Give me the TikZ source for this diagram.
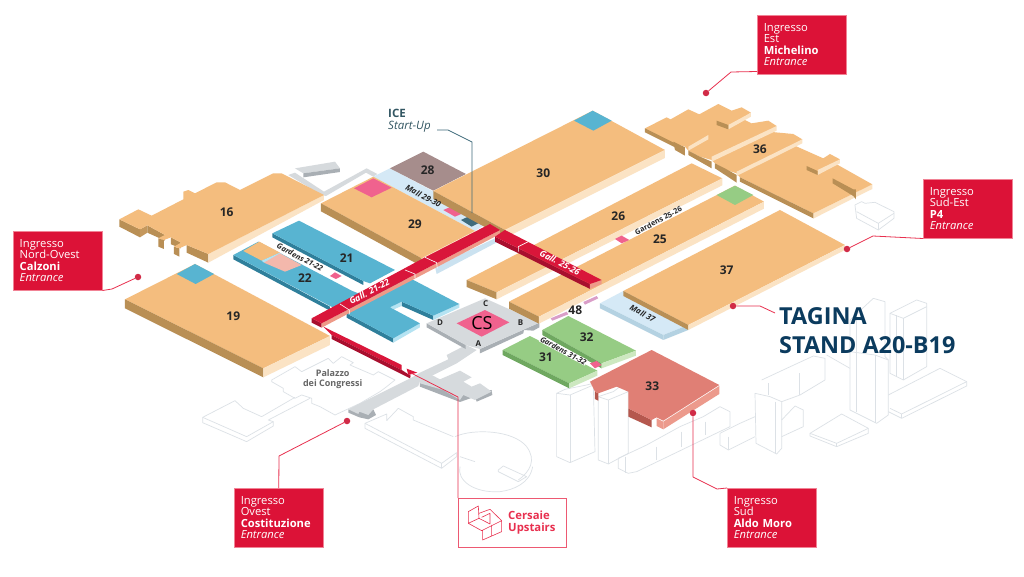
\documentclass[tikz,border=0pt]{standalone}
\usepackage{fontspec}
\setmainfont{Open Sans}
\definecolor{orangetop}{HTML}{F4BD7E}
\definecolor{orangeleft}{HTML}{B98F55}
\definecolor{orangeright}{HTML}{FBE3C4}
\definecolor{bluetop}{HTML}{58B4D1}
\definecolor{blueleft}{HTML}{2F7F9B}
\definecolor{blueright}{HTML}{B5E3F2}
\definecolor{greentop}{HTML}{96CC84}
\definecolor{greenleft}{HTML}{6FA860}
\definecolor{greenright}{HTML}{CDE8C0}
\definecolor{malltop}{HTML}{D5E9F6}
\definecolor{mallleft}{HTML}{B4D2E2}
\definecolor{mallright}{HTML}{B4D2E2}
\definecolor{redtop}{HTML}{D9163A}
\definecolor{reddark}{HTML}{A80F2E}
\definecolor{redlow}{HTML}{EE9A88}
\definecolor{leadred}{HTML}{E8304F}
\definecolor{boxred}{HTML}{DC1237}
\definecolor{pinkcs}{HTML}{F0628E}
\definecolor{greytop}{HTML}{D6DADD}
\definecolor{greyside}{HTML}{A9AFB4}
\definecolor{ghost}{HTML}{DCE1E6}
\definecolor{hall28}{HTML}{A68D8C}
\definecolor{hall33}{HTML}{E07F75}
\definecolor{side33}{HTML}{EC9A8C}
\definecolor{dark33}{HTML}{B5584E}
\definecolor{navy}{HTML}{0B3B5E}
\definecolor{teal}{HTML}{3F6B7B}
\tikzset{
  zoomed/.style={x=0.3333pt,y=-0.3333pt},
  ghostline/.style={draw=ghost,line width=0.7pt,line join=round},
  hallnum/.style={font=\bfseries\fontsize{12}{12}\selectfont,text=black!85,inner sep=0pt},
  gatelabel/.style={font=\bfseries\fontsize{8}{8}\selectfont,text=black!85,inner sep=0pt},
  streetlabel/.style={font=\bfseries\itshape\fontsize{8}{8}\selectfont,text=black!85,inner sep=1pt},
  gardenlabel/.style={font=\bfseries\itshape\fontsize{7.6}{7.6}\selectfont,text=black!85,fill=white,inner sep=0.3pt},
  gallabel/.style={font=\bfseries\itshape\fontsize{8.8}{8.8}\selectfont,text=white,inner sep=0pt},
  entry/.style={anchor=north west,fill=boxred,draw=leadred!60,line width=0.5pt,text=white,align=left,
    text width=76pt,inner xsep=6pt,inner ysep=0pt,minimum width=89pt,minimum height=59pt,
    font=\fontsize{11.2}{11.5}\selectfont},
  dot/.style={circle,fill=leadred!90!black,minimum size=6.5pt,inner sep=0pt},
  lead/.style={draw=leadred,line width=0.8pt,line join=round}
}
% one slab: corners left, bottom, right, top, then height and colour family
\newcommand{\slab}[6]{
  \fill[#6top] (#1) -- (#2) -- (#3) -- (#4) -- cycle;
  \fill[#6left] (#1) -- (#2) -- ([yshift=-#5pt]#2) -- ([yshift=-#5pt]#1) -- cycle;
  \fill[#6right] (#2) -- (#3) -- ([yshift=-#5pt]#3) -- ([yshift=-#5pt]#2) -- cycle;
}
\begin{document}
\begin{tikzpicture}[x=1pt,y=-1pt]
\useasboundingbox (0,0) rectangle (1024,576);
\fill[white] (0,0) rectangle (1024,576);

% ghost buildings, west
\begin{scope}[shift={(180,340)},zoomed]
  \draw[ghostline] (275,120) -- (345,80) -- (365,95) -- (445,55) -- (460,70) -- (485,50) -- (520,68) -- (510,75) -- (580,105) -- (595,95) -- (645,120) -- (620,140) -- (600,155) -- (540,190) -- (465,225) -- (420,200) -- (395,190) -- (395,175) -- (365,165) -- (345,175) -- (310,155) -- (310,145) -- (275,125) -- cycle;
  \draw[ghostline] (68,232) -- (165,182) -- (190,205) -- (245,230) -- (345,172);
  \draw[ghostline] (68,232) -- (68,248) -- (200,305) -- (280,258) -- (280,245) -- (265,240) -- (390,175);
  \draw[ghostline] (68,232) -- (200,290) -- (280,245);
  \draw[ghostline] (555,250) -- (620,222) -- (620,242) -- (655,205) -- (700,230) -- (700,240) -- (820,290);
  \draw[ghostline] (555,250) -- (555,265) -- (785,385) -- (830,350) -- (830,338);
  \draw[ghostline] (555,250) -- (785,370) -- (830,338);
  \draw[ghostline] (785,370) -- (785,385);
\end{scope}
% ghost buildings, south and east
\begin{scope}[shift={(300,280)},zoomed]
  \draw[ghostline] (465,470) .. controls (520,445) and (640,450) .. (680,500) .. controls (710,540) and (690,575) .. (655,600);
  \draw[ghostline] (480,560) .. controls (470,600) and (520,640) .. (600,635) .. controls (640,630) and (690,610) .. (698,560);
  \draw[ghostline] (595,570) -- (610,558) -- (680,590) -- (655,605) -- (595,575) -- cycle;
  \draw[ghostline] (480,530) -- (525,545);
  \draw[ghostline] (770,340) -- (795,328) -- (860,315) -- (880,310) -- (885,515) -- (810,548) -- (770,530) -- cycle;
  \draw[ghostline] (810,345) -- (810,548);
  \draw[ghostline] (770,340) -- (810,345) -- (880,315);
  \draw[ghostline] (895,350) -- (940,335) -- (960,320) -- (985,335) -- (985,520) -- (925,552) -- (895,540) -- cycle;
  \draw[ghostline] (925,360) -- (925,552);
  \draw[ghostline] (895,350) -- (925,360) -- (985,335);
  \draw[ghostline] (955,535) -- (1040,495) -- (1140,440) -- (1210,410) -- (1260,380) -- (1290,395) -- (1290,440) -- (1010,575) -- (985,580) -- (955,565) -- cycle;
  \draw[ghostline] (975,530) -- (975,578);
  \draw[ghostline] (1070,500) -- (1070,540);
  \draw[ghostline] (1145,455) -- (1145,500);
  \draw[ghostline] (1215,425) -- (1215,465);
\end{scope}
\begin{scope}[shift={(700,280)},zoomed]
  \draw[ghostline] (60,460) -- (120,430) -- (165,410) ;
  \draw[ghostline] (60,460) -- (60,495) -- (85,510) -- (165,470);
  \draw[ghostline] (85,470) -- (85,510);
  \draw[ghostline] (245,420) -- (285,378) -- (310,390) -- (310,440) -- (245,470);
  \draw[ghostline] (185,300) -- (260,265) -- (340,228) -- (375,235) -- (375,300) -- (300,345) -- (245,365);
  \draw[ghostline] (205,310) -- (205,345);
  \draw[ghostline] (298,280) -- (298,345);
  \draw[ghostline] (165,340) -- (210,350) -- (245,365) -- (245,505) -- (230,522) -- (168,490) -- cycle;
  \draw[ghostline] (225,365) -- (225,520);
  \draw[ghostline] (450,120) -- (520,55) -- (555,65) -- (555,230) -- (565,240) -- (565,405) -- (530,430) -- (450,390) -- cycle;
  \draw[ghostline] (525,225) -- (525,430);
  \draw[ghostline] (450,215) -- (525,225) -- (565,240);
  \draw[ghostline] (470,115) -- (470,395);
  \draw[ghostline] (570,100) -- (650,60) -- (680,70) -- (680,260) -- (610,300) -- (570,280) -- cycle;
  \draw[ghostline] (590,105) -- (590,290);
  \draw[ghostline] (610,115) -- (610,300);
  \draw[ghostline] (570,100) -- (610,115) -- (680,80);
  \draw[ghostline] (380,225) -- (450,265);
  \draw[ghostline] (330,460) -- (425,402) -- (505,445) -- (505,460) -- (410,500) -- (330,468) -- cycle;
  \draw[ghostline] (330,460) -- (410,490) -- (505,445);
  \draw[ghostline] (410,490) -- (410,500);
  \draw[ghostline] (565,345) -- (720,265) -- (800,305) -- (800,318) -- (605,415) -- (565,395);
  \draw[ghostline] (570,385) -- (605,402) -- (800,305);
  \draw[ghostline] (605,402) -- (605,415);
\end{scope}
\begin{scope}[shift={(440,90)},zoomed]
  \draw[ghostline] (1245,345) -- (1265,335) -- (1275,340) -- (1305,337) -- (1362,365) -- (1362,385) -- (1315,420) -- (1250,385) -- cycle;
  \draw[ghostline] (1250,365) -- (1315,400) -- (1362,370);
  \draw[ghostline] (1315,400) -- (1315,420);
\end{scope}

% grey walkways and central plaza
\begin{scope}[shift={(300,280)},zoomed]
  \fill[greyside] (145,388) -- (145,398) -- (178,412) -- (205,418) -- (228,405) -- (220,388) -- cycle;
  \fill[greyside] (360,305) -- (360,320) -- (425,345) -- (480,366) -- (525,350) -- (530,365) -- (577,345) -- (575,330) -- (480,340) -- cycle;
  \fill[greytop] (145,388) -- (335,293) -- (360,278) -- (445,238) -- (440,225) -- (498,195) -- (530,210) -- (470,250) -- (400,285) -- (360,303) -- (355,318) -- (220,388) -- (205,405) -- (178,395) -- (175,402) -- cycle;
  \fill[greytop] (360,300) -- (395,285) -- (420,298) -- (480,272) -- (515,292) -- (490,305) -- (515,320) -- (540,310) -- (575,335) -- (525,360) -- (490,345) -- (480,360) -- (430,330) -- (360,310) -- cycle;
  \fill[greyside] (380,130) -- (497,195) -- (497,207) -- (380,142) -- cycle;
  \fill[greyside] (540,207) -- (718,128) -- (718,142) -- (700,152) -- (672,150) -- (670,160) -- (540,220) -- cycle;
  \fill[greytop] (380,130) -- (555,55) -- (718,128) -- (540,207) -- (497,195) -- cycle;
  \fill[pinkcs] (470,130) -- (555,90) -- (628,127) -- (545,170) -- cycle;
\end{scope}
\begin{scope}[shift={(100,150)},zoomed]
  \fill[greytop] (565,75) -- (585,68) -- (672,125) -- (800,55) -- (832,72) -- (820,80) -- (798,68) -- (678,138) -- (665,135) -- cycle;
  \fill[greytop] (585,55) -- (705,35) -- (720,55) -- (610,70) -- cycle;
  \fill[greyside] (610,70) -- (720,55) -- (720,66) -- (610,82) -- cycle;
  \fill[malltop!70!mallleft] (1005,350) -- (1200,258) -- (1200,272) -- (1010,372) -- cycle;
\end{scope}

% hall 16 and the west halls
\begin{scope}[shift={(100,150)},zoomed]
  \fill[orangeleft] (58,208) -- (120,238) -- (120,262) -- (58,230) -- cycle;
  \fill[orangeleft!80!orangetop] (120,238) -- (142,226) -- (142,248) -- (120,262) -- cycle;
  \fill[orangeleft] (142,226) -- (195,255) -- (195,272) -- (142,248) -- cycle;
  \fill[orangeleft] (175,265) -- (192,270) -- (192,297) -- (175,290) -- cycle;
  \fill[orangeleft] (213,262) -- (243,278) -- (243,295) -- (213,283) -- cycle;
  \fill[orangeleft] (222,290) -- (238,295) -- (238,320) -- (222,312) -- cycle;
  \fill[orangeleft] (260,285) -- (325,312) -- (325,338) -- (260,308) -- cycle;
  \fill[orangeright] (325,312) -- (672,135) -- (672,150) -- (325,338) -- cycle;
  \fill[orangetop] (58,208) -- (115,178) -- (155,197) -- (250,148) -- (250,125) -- (265,120) -- (285,130) -- (350,97) -- (375,97) -- (420,120) -- (520,70) -- (545,70) -- (672,135) -- (325,312) -- (260,285) -- (238,295) -- (222,290) -- (243,278) -- (213,262) -- (192,270) -- (175,265) -- (195,255) -- (142,226) -- (120,238) -- cycle;
  \slab{75,448}{490,655}{690,558}{285,342}{9}{orange}
  \fill[bluetop] (230,372) -- (285,342) -- (342,372) -- (287,402) -- cycle;
  % halls 21 and 22
  \fill[blueleft] (400,315) -- (690,470) -- (690,482) -- (400,328) -- cycle;
  \fill[bluetop] (400,315) -- (475,275) -- (755,422) -- (800,440) -- (740,490) -- (690,468) -- cycle;
  \fill[orangetop] (430,303) -- (478,275) -- (540,308) -- (485,332) -- cycle;
  \fill[blueright] (485,332) -- (540,308) -- (548,313) -- (492,338) -- cycle;
  \fill[redlow!70!white] (492,338) -- (540,310) -- (605,345) -- (555,365) -- cycle;
  \fill[blueleft] (517,250) -- (790,393) -- (790,405) -- (517,262) -- cycle;
  \fill[bluetop] (517,250) -- (597,212) -- (885,360) -- (810,400) -- (790,393) -- cycle;
  \fill[blueleft] (740,490) -- (880,565) -- (880,578) -- (740,503) -- cycle;
  \fill[blueright] (880,565) -- (960,520) -- (960,532) -- (880,578) -- cycle;
  \fill[blueleft] (905,455) -- (1000,497) -- (1000,510) -- (905,468) -- cycle;
  \fill[blueright] (1000,497) -- (1078,462) -- (1078,473) -- (1000,510) -- cycle;
  \fill[blueright] (870,472) -- (905,455) -- (905,468) -- (882,478) -- cycle;
  \fill[bluetop] (740,490) -- (700,450) -- (930,385) -- (950,395) -- (1078,462) -- (1000,497) -- (905,455) -- (870,472) -- (960,520) -- (880,565) -- cycle;
  \fill[pinkcs] (690,378) -- (705,367) -- (725,378) -- (708,387) -- cycle;
  % mall, 28 and 29
  \fill[malltop] (820,80) -- (870,55) -- (1170,215) -- (1125,243) -- cycle;
  \fill[hall28] (870,55) -- (970,5) -- (1098,72) -- (1000,122) -- cycle;
  \slab{663,160}{965,325}{1125,243}{820,80}{8}{orange}
  \fill[pinkcs] (762,115) -- (820,85) -- (875,113) -- (815,142) -- cycle;
  \fill[pinkcs] (1030,180) -- (1065,165) -- (1100,185) -- (1065,200) -- cycle;
  \fill[teal] (1083,210) -- (1115,195) -- (1150,212) -- (1115,230) -- cycle;
\end{scope}

% east halls
\begin{scope}[shift={(440,90)},zoomed]
  \slab{-20,303}{195,420}{675,180}{458,62}{8}{orange}
  \fill[bluetop] (402,92) -- (458,62) -- (515,92) -- (460,122) -- cycle;
  \slab{80,570}{170,607}{847,265}{755,220}{7}{orange}
  \slab{207,635}{297,680}{972,335}{885,287}{7}{orange}
  \fill[greentop] (830,315) -- (885,287) -- (940,315) -- (885,345) -- cycle;
  \fill[pinkcs] (525,447) -- (545,437) -- (568,450) -- (545,460) -- cycle;
  \slab{480,640}{670,735}{745,705}{550,603}{5}{mall}
  \slab{550,603}{745,705}{1215,465}{1020,360}{5}{orange}
  % hall 36
  \fill[orangeright] (1120,370) -- (1297,283) -- (1297,297) -- (1240,325) -- (1120,386) -- cycle;
  \fill[orangetop] (615,115) -- (680,82) -- (692,88) -- (745,58) -- (778,73) -- (835,42) -- (875,62) -- (905,52) -- (933,68) -- (905,85) -- (935,100) -- (985,92) -- (1010,108) -- (985,125) -- (1060,132) -- (1087,148) -- (1060,165) -- (1150,205) -- (1170,192) -- (1200,208) -- (1185,220) -- (1297,283) -- (1120,370) -- (900,262) -- (890,250) -- (860,240) -- (825,220) -- (815,210) -- (780,200) -- (745,182) -- (735,170) -- (700,160) -- cycle;
  \fill[orangeright] (745,170) -- (805,135) -- (805,148) -- (745,182) -- cycle;
  \fill[orangeright] (815,200) -- (1010,108) -- (1010,122) -- (815,215) -- cycle;
  \fill[orangeright] (890,245) -- (1087,148) -- (1087,160) -- (890,258) -- cycle;
  \fill[orangeright] (1133,240) -- (1200,208) -- (1200,220) -- (1133,255) -- cycle;
  \fill[orangeright] (865,105) -- (933,68) -- (933,80) -- (865,118) -- cycle;
  \fill[orangeleft] (1100,228) -- (1133,243) -- (1133,255) -- (1100,240) -- cycle;
  \fill[orangeleft] (830,92) -- (865,105) -- (865,118) -- (830,105) -- cycle;
  \fill[orangeleft] (1178,265) -- (1240,298) -- (1248,298) -- (1248,328) -- (1240,318) -- (1178,280) -- cycle;
  \fill[orangeleft] (615,115) -- (705,160) -- (705,172) -- (615,127) -- cycle;
  \fill[orangeleft] (700,155) -- (735,172) -- (735,197) -- (705,180) -- cycle;
  \fill[orangeleft] (745,182) -- (780,200) -- (815,215) -- (815,235) -- (780,215) -- (745,195) -- cycle;
  \fill[orangeleft] (825,220) -- (860,238) -- (890,255) -- (890,278) -- (860,258) -- (825,235) -- cycle;
  \fill[orangeleft] (900,262) -- (1120,370) -- (1120,385) -- (900,275) -- cycle;
\end{scope}

% south halls
\begin{scope}[shift={(300,280)},zoomed]
  \slab{727,150}{905,250}{1008,212}{805,108}{5}{green}
  \slab{608,210}{808,310}{892,272}{690,168}{5}{green}
  \fill[pinkcs] (870,250) -- (890,243) -- (905,255) -- (885,265) -- cycle;
  \fill[dark33] (885,335) -- (895,340) -- (895,362) -- (885,357) -- cycle;
  \fill[dark33] (985,385) -- (1055,420) -- (1055,442) -- (985,410) -- cycle;
  \fill[side33] (1070,415) -- (1090,425) -- (1090,448) -- (1070,438) -- cycle;
  \fill[side33] (1090,425) -- (1258,318) -- (1258,342) -- (1090,448) -- cycle;
  \fill[hall33] (870,305) -- (1055,210) -- (1258,315) -- (1090,422) -- (1070,412) -- (1055,420) -- (985,385) -- (985,335) -- (950,320) -- (895,340) -- (885,335) -- cycle;
  % mauve strips by 48
  \fill[pinkcs!40!violet!45!white] (752,115) -- (800,95) -- (805,103) -- (757,122) -- cycle;
  \fill[pinkcs!40!violet!45!white] (850,66) -- (890,48) -- (895,55) -- (855,74) -- cycle;
  % low gallery
  \fill[redtop] (70,140) -- (305,255) -- (305,270) -- (95,165) -- cycle;
  \fill[reddark] (95,165) -- (305,270) -- (332,287) -- (330,295) -- (95,177) -- cycle;
  \fill[redtop] (320,266) -- (352,278) -- (325,285) -- cycle;
\end{scope}

% galleries
\begin{scope}[shift={(100,150)},zoomed]
  \fill[reddark] (635,505) -- (665,520) -- (665,533) -- (635,518) -- cycle;
  \fill[redlow] (665,520) -- (1200,240) -- (1200,252) -- (665,533) -- cycle;
  \fill[redtop] (635,505) -- (975,322) -- (1170,222) -- (1200,240) -- (665,520) -- cycle;
  \draw[white,line width=0.6pt] (720,462) -- (748,480) -- (748,492);
  \draw[white,line width=0.6pt] (915,360) -- (945,372) -- (945,385);
  \draw[white,line width=0.6pt] (975,322) -- (1010,338) -- (1012,355);
\end{scope}
\begin{scope}[shift={(440,90)},zoomed]
  \fill[reddark] (165,440) -- (450,582) -- (450,597) -- (165,455) -- cycle;
  \fill[redlow] (450,582) -- (485,570) -- (485,582) -- (450,597) -- cycle;
  \fill[redtop] (165,440) -- (195,420) -- (485,570) -- (450,582) -- cycle;
  \draw[white,line width=0.6pt] (265,455) -- (235,470) -- (235,485);
\end{scope}

% hall numbers and street labels
\begin{scope}[shift={(100,150)},zoomed]
  \node[hallnum] (h16) at (380,188) {16};
  \node[hallnum] (h19) at (400,500) {19};
  \node[hallnum] (h21) at (740,325) {21};
  \node[hallnum] (h22) at (615,383) {22};
  \node[hallnum] (h28) at (983,60) {28};
  \node[hallnum] (h29) at (945,222) {29};
  \node[gardenlabel,rotate=-28] (g2122) at (600,322) {Gardens 21-22};
  \node[streetlabel,rotate=-28] (m2930) at (970,138) {Mall 29-30};
  \node[gallabel,rotate=28] (g1) at (808,425) {Gall. 21-22};
\end{scope}
\begin{scope}[shift={(440,90)},zoomed]
  \node[hallnum] (h30) at (310,250) {30};
  \node[hallnum] (h26) at (535,380) {26};
  \node[hallnum] (h25) at (660,447) {25};
  \node[hallnum] (h36) at (960,177) {36};
  \node[hallnum] (h37) at (860,542) {37};
  \node[gardenlabel,rotate=28,font=\bfseries\fontsize{7.4}{7.4}\selectfont] (g2526) at (655,392) {Gardens 25-26};
  \node[streetlabel,rotate=-28] (m37) at (608,670) {Mall 37};
  \node[gallabel,rotate=-28] (g2) at (360,518) {Gall. 25-26};
\end{scope}
\begin{scope}[shift={(300,280)},zoomed]
  \node[hallnum] (h31) at (738,233) {31};
  \node[hallnum] (h32) at (860,172) {32};
  \node[hallnum] (h33) at (1057,318) {33};
  \node[hallnum] (h48) at (826,90) {48};
  \node[gardenlabel,rotate=-28] (g3132) at (790,212) {Gardens 31-32};
  \node[hallnum,font=\fontsize{18}{18}\selectfont,text=black] (cs) at (546,130) {CS};
  \node[gatelabel] (ga) at (535,190) {A};
  \node[gatelabel] (gb) at (662,127) {B};
  \node[gatelabel] (gc) at (557,70) {C};
  \node[gatelabel] (gd) at (420,128) {D};
  \node[align=center,text=black!60,font=\bfseries\fontsize{9}{10.5}\selectfont,inner sep=0pt] (palazzo) at (98,298) {Palazzo\\dei Congressi};
\end{scope}

% entrance boxes
\node[entry] (est) at (757,15) {Ingresso\\Est\\\textbf{Michelino}\\\textit{Entrance}};
\node[entry] (sudest) at (923,179) {Ingresso\\Sud-Est\\\textbf{P4}\\\textit{Entrance}};
\node[entry] (nordovest) at (13,231) {Ingresso\\Nord-Ovest\\\textbf{Calzoni}\\\textit{Entrance}};
\node[entry] (ovest) at (234,488) {Ingresso\\Ovest\\\textbf{Costituzione}\\\textit{Entrance}};
\node[entry] (sud) at (727,488) {Ingresso\\Sud\\\textbf{Aldo Moro}\\\textit{Entrance}};
\node[dot] (dest) at (706,93) {};
\node[dot] (dsudest) at (847,249) {};
\node[dot] (dnordovest) at (138,277) {};
\node[dot] (dovest) at (347,421) {};
\node[dot] (dsud) at (693,413) {};
\node[dot] (dtagina) at (733,306) {};
\draw[lead] (dest) -- (731,72) -- ([yshift=3pt]est.south west);
\draw[lead] (dsudest) -- (873,236) -- (sudest.south west);
\draw[lead] (dnordovest) -- (112,289) -- (nordovest.south east);
\draw[lead] (dovest) -- (279,456) -- (ovest.north);
\draw[lead] (dsud) -- (693,477) -- (717,489) -- (sud.north west);

% stand label
\node[anchor=west,text=navy,align=left,font=\fontsize{23.4}{29}\selectfont\bfseries,inner sep=0pt] (tagina) at (779,330.5) {TAGINA\\STAND A20-B19};
\coordinate (tagend) at (775,313);
\draw[lead] (dtagina) -- (760,306) -- (tagend);

% ICE label
\node[anchor=north west,align=left,text=teal!80!black,font=\fontsize{11.5}{12}\selectfont,inner sep=0pt] (ice) at (388,109) {\textbf{ICE}\\\textit{Start-Up}};
\coordinate (icestart) at (437,130);
\coordinate (icecell) at (472,213);
\draw[draw=teal,line width=0.7pt] (icestart) -- (448,130) -- (472,142) -- (icecell);

% Cersaie Upstairs box
\node[anchor=north west,draw=leadred!80,line width=0.8pt,minimum width=108pt,minimum height=49pt,inner sep=0pt] (upstairs) at (458,498) {};
\node[anchor=west,text=leadred,align=left,font=\bfseries\fontsize{11.3}{12}\selectfont,inner sep=0pt] (uptext) at (508,523) {Cersaie\\Upstairs};
\coordinate (uptop) at (411,373);
\draw[lead] (uptop) -- (458,397) -- (upstairs.north west);
\begin{scope}[shift={(300,280)},zoomed]
  \draw[leadred,line width=0.6pt,line join=round] (505,695) -- (535,678) -- (537,715) -- (505,730) -- cycle (505,730) -- (545,752) -- (605,722) -- (605,755) -- (548,780) -- (548,752) (537,700) -- (570,688) -- (605,722) (537,715) -- (570,732) -- (570,700) -- (545,712) (548,780) -- (575,768) -- (575,735);
\end{scope}
\end{tikzpicture}
\end{document}
